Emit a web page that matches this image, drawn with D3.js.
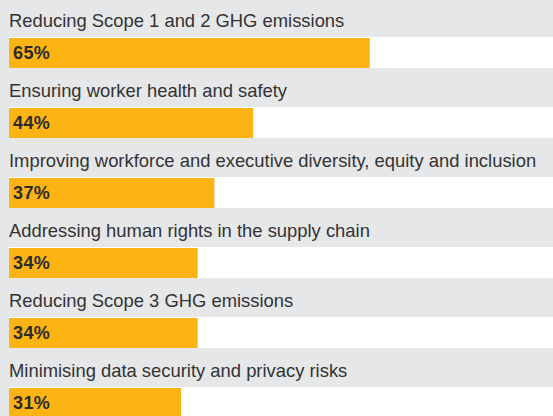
<!DOCTYPE html>
<html>
<head>
<meta charset="utf-8">
<script src="https://cdn.jsdelivr.net/npm/d3@7"></script>
<style>
  body { margin: 0; background: #e6e7e9; }
  svg { display: block; }
</style>
</head>
<body>
<div class="chart"></div>
<script>
const width = 553, height = 416;

const categories = [
    'Reducing Scope 1 and 2 GHG emissions',
    'Ensuring worker health and safety',
    'Improving workforce and executive diversity, equity and inclusion',
    'Addressing human rights in the supply chain',
    'Reducing Scope 3 GHG emissions',
    'Minimising data security and privacy risks'
];
const values = [65, 44, 37, 34, 34, 31];

let svg = d3.select('.chart')
    .append('svg')
    .attr('width', width)
    .attr('height', height);

svg.append('rect')
    .attr('width', width)
    .attr('height', height)
    .attr('fill', '#e6e7e9');

// each item = label band + bar band, 70px step
let y_scale = d3.scaleBand()
    .domain(categories)
    .range([0, 70 * categories.length])
    .paddingInner(0)
    .paddingOuter(0);
let x_scale = d3.scaleLinear()
    .domain([0, 100])
    .range([9, 564]);

let rows = svg.append('g')
    .selectAll('g')
    .data(categories.map((c, i) => ({ name: c, value: values[i] })))
    .join('g')
    .attr('transform', d => `translate(0, ${y_scale(d.name)})`);

// white track behind the bar
rows.append('rect')
    .attr('x', x_scale(0))
    .attr('y', 37)
    .attr('width', width - x_scale(0))
    .attr('height', 31)
    .attr('fill', '#ffffff');

rows.append('rect')
    .attr('x', x_scale(0))
    .attr('y', 38)
    .attr('width', d => x_scale(d.value) - x_scale(0))
    .attr('height', 30)
    .attr('fill', '#fcb414');

rows.append('text')
    .attr('x', x_scale(0))
    .attr('y', 27)
    .attr('font-family', 'Liberation Sans, Arial, sans-serif')
    .attr('font-size', 18.4)
    .attr('fill', '#333333')
    .text(d => d.name);

rows.append('text')
    .attr('x', x_scale(0) + 4)
    .attr('y', 59)
    .attr('font-family', 'Liberation Sans, Arial, sans-serif')
    .attr('font-weight', 'bold')
    .attr('font-size', 18)
    .attr('letter-spacing', 0.4)
    .attr('fill', '#2b2b2b')
    .text(d => d.value + '%');
</script>
</body>
</html>
